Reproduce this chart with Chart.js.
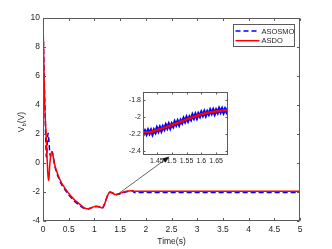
<!DOCTYPE html>
<html><head><meta charset="utf-8">
<script src="https://cdn.jsdelivr.net/npm/chart.js@4/dist/chart.umd.min.js"></script>
<style>
html,body{margin:0;padding:0;background:#fff;overflow:hidden}
#wrap{position:relative;width:332px;height:249px}
#main{position:absolute;left:0;top:0;width:332px;height:249px}
#inset{position:absolute;left:110px;top:86px;width:122px;height:84px}
</style></head><body>
<div id="wrap"><canvas id="main" width="332" height="249"></canvas><canvas id="inset" width="122" height="84"></canvas></div>
<script>
// ---------- data ----------
const seriesNames = ['ASOSMO', 'ASDO'];
const xTitle = 'Time(s)';
const yTitleMain = 'V', yTitleSub = 'b', yTitleUnit = '(V)';

const timeASDO = [0,0.01,0.02,0.03,0.045,0.06,0.075,0.09,0.105,0.115,0.13,0.15,0.17,0.19,0.22,0.26,0.3,0.35,0.4,0.45,0.5,0.55,0.6,0.65,0.7,0.75,0.8,0.85,0.9,0.95,1.0,1.05,1.1,1.15,1.2,1.25,1.3,1.35,1.4,1.45,1.5,1.55,1.6,1.65,1.7,1.75,1.77,2.0,5.0];
const valASDO  = [9.5,8.0,6.2,4.5,3.0,2.0,0.8,-0.5,-1.2,-1.1,-0.2,0.5,0.75,0.6,0.0,-0.5,-0.9,-1.3,-1.6,-1.85,-2.1,-2.3,-2.5,-2.65,-2.8,-2.95,-3.08,-3.15,-3.13,-3.07,-3.0,-2.98,-3.02,-3.1,-2.8,-2.3,-2.0,-2.05,-2.18,-2.157,-2.097,-2.03,-1.97,-1.935,-1.92,-1.91,-1.95,-1.95,-1.95];

const timeASOSMO = [0,0.01,0.02,0.03,0.045,0.055,0.065,0.075,0.09,0.1,0.115,0.13,0.145,0.16,0.175,0.19,0.22,0.26,0.3,0.35,0.4,0.45,0.5,0.55,0.6,0.65,0.7,0.75,0.8,0.85,0.9,0.95,1.0,1.05,1.1,1.15,1.2,1.25,1.3,1.35,1.4,1.45,1.5,1.55,1.6,1.65,1.7,1.75,1.77,5.0];
const valASOSMO  = [9.5,8.2,6.5,4.8,3.0,1.5,0.4,0.8,1.8,2.05,1.5,0.8,0.45,0.6,0.8,0.65,-0.05,-0.6,-1.0,-1.4,-1.7,-1.95,-2.2,-2.4,-2.6,-2.75,-2.9,-3.03,-3.13,-3.18,-3.15,-3.08,-3.02,-3.0,-3.04,-3.12,-2.82,-2.32,-2.02,-2.07,-2.19,-2.16,-2.12,-2.06,-2.0,-1.96,-1.94,-1.93,-2.03,-2.03];

const xTicks = [0,0.5,1,1.5,2,2.5,3,3.5,4,4.5,5];
const yTicks = [-4,-2,0,2,4,6,8,10];

// zoomed inset (1.40 s .. 1.69 s)
const insetTimeASDO = [1.40,1.41,1.42,1.43,1.44,1.45,1.46,1.47,1.48,1.49,1.50,1.51,1.52,1.53,1.54,1.55,1.56,1.57,1.58,1.59,1.60,1.61,1.62,1.63,1.64,1.65,1.66,1.67,1.68,1.69];
const insetValASDO  = [-2.180,-2.182,-2.183,-2.178,-2.168,-2.157,-2.145,-2.133,-2.121,-2.109,-2.097,-2.085,-2.072,-2.058,-2.044,-2.030,-2.017,-2.004,-1.992,-1.981,-1.970,-1.961,-1.953,-1.946,-1.940,-1.935,-1.930,-1.926,-1.922,-1.919];
const insetTimeASOSMO = [1.400,1.405,1.410,1.415,1.420,1.425,1.430,1.435,1.440,1.445,1.450,1.455,1.460,1.465,1.470,1.475,1.480,1.485,1.490,1.495,1.500,1.505,1.510,1.515,1.520,1.525,1.530,1.535,1.540,1.545,1.550,1.555,1.560,1.565,1.570,1.575,1.580,1.585,1.590,1.595,1.600,1.605,1.610,1.615,1.620,1.625,1.630,1.635,1.640,1.645,1.650,1.655,1.660,1.665,1.670,1.675,1.680,1.685,1.690];
const insetValASOSMO  = [-2.160,-2.206,-2.167,-2.203,-2.158,-2.196,-2.158,-2.203,-2.156,-2.185,-2.132,-2.169,-2.125,-2.165,-2.117,-2.147,-2.097,-2.132,-2.088,-2.130,-2.084,-2.113,-2.060,-2.095,-2.052,-2.093,-2.043,-2.071,-2.020,-2.055,-2.008,-2.048,-2.003,-2.031,-1.979,-2.015,-1.972,-2.013,-1.965,-1.995,-1.947,-1.983,-1.940,-1.983,-1.939,-1.970,-1.922,-1.960,-1.920,-1.965,-1.920,-1.952,-1.905,-1.944,-1.905,-1.949,-1.909,-1.942,-1.895];
const insetXTicks = [1.45,1.5,1.55,1.6,1.65];
const insetYTicks = [-2.4,-2.2,-2,-1.8];

// arrow from the curve (data coords) to the inset (main-axis data coords)
const arrowFrom = [1.455, -2.15];
const arrowTo = [2.46, 0.45];

// ---------- style ----------
const FONT = "'Liberation Sans', Arial, Helvetica, sans-serif";
const TXT = '#262626';
const BLUE = '#0000ff', RED = '#ff0000';

const pts = (xs, ys) => xs.map((x, i) => ({x, y: ys[i]}));
const fmt = v => String(+(+v).toFixed(3));

function framePlugin(len) {
  return {
    id: 'frame',
    beforeDraw(chart) {
      const {ctx, chartArea: a} = chart;
      ctx.save(); ctx.fillStyle = '#fff';
      ctx.fillRect(a.left, a.top, a.right - a.left, a.bottom - a.top);
      ctx.restore();
    },
    afterDraw(chart) {
      const {ctx, chartArea: a, scales: {x, y}} = chart;
      ctx.save();
      ctx.strokeStyle = '#5a5a5a'; ctx.lineWidth = 1;
      const L = Math.round(a.left) + 0.5, R = Math.round(a.right) - 0.5;
      const T = Math.round(a.top) + 0.5, B = Math.round(a.bottom) - 0.5;
      ctx.strokeRect(L, T, R - L, B - T);
      ctx.beginPath();
      x.ticks.forEach(t => {
        const px = Math.round(x.getPixelForValue(t.value)) + 0.5;
        ctx.moveTo(px, B); ctx.lineTo(px, B - len);
        ctx.moveTo(px, T); ctx.lineTo(px, T + len);
      });
      y.ticks.forEach(t => {
        const py = Math.round(y.getPixelForValue(t.value)) + 0.5;
        ctx.moveTo(L, py); ctx.lineTo(L + len, py);
        ctx.moveTo(R, py); ctx.lineTo(R - len, py);
      });
      ctx.stroke();
      ctx.restore();
    }
  };
}

const mainExtras = {
  id: 'mainExtras',
  afterDraw(chart) {
    const {ctx, chartArea: a, scales: {x, y}} = chart;
    ctx.save();
    // arrow
    const x0 = x.getPixelForValue(arrowFrom[0]), y0 = y.getPixelForValue(arrowFrom[1]);
    const x1 = x.getPixelForValue(arrowTo[0]), y1 = y.getPixelForValue(arrowTo[1]);
    const ang = Math.atan2(y1 - y0, x1 - x0);
    ctx.strokeStyle = '#222'; ctx.fillStyle = '#111'; ctx.lineWidth = 0.7;
    ctx.beginPath(); ctx.moveTo(x0, y0); ctx.lineTo(x1 - 5 * Math.cos(ang), y1 - 5 * Math.sin(ang)); ctx.stroke();
    ctx.beginPath();
    ctx.moveTo(x1, y1);
    ctx.lineTo(x1 - 7 * Math.cos(ang) + 2.6 * Math.sin(ang), y1 - 7 * Math.sin(ang) - 2.6 * Math.cos(ang));
    ctx.lineTo(x1 - 7 * Math.cos(ang) - 2.6 * Math.sin(ang), y1 - 7 * Math.sin(ang) + 2.6 * Math.cos(ang));
    ctx.closePath(); ctx.fill();

    // legend
    const lx = 233.5, ly = 24.5, lw = 61, lh = 22;
    ctx.fillStyle = '#fff'; ctx.fillRect(lx, ly, lw, lh);
    ctx.strokeStyle = '#5a5a5a'; ctx.lineWidth = 1; ctx.strokeRect(lx, ly, lw, lh);
    ctx.font = '7.5px ' + FONT; ctx.textBaseline = 'middle'; ctx.textAlign = 'left';
    const order = [0, 1];
    order.forEach((di, i) => {
      const ds = chart.data.datasets[di];
      const yy = 31 + i * 9.7;
      ctx.strokeStyle = ds.borderColor; ctx.lineWidth = 1.5;
      ctx.setLineDash(ds.borderDash || []);
      ctx.beginPath(); ctx.moveTo(235.5, yy); ctx.lineTo(259.5, yy); ctx.stroke();
      ctx.setLineDash([]);
      ctx.fillStyle = TXT; ctx.fillText(ds.label, 261.5, yy + 0.5);
    });

    // x title
    ctx.font = '8.5px ' + FONT; ctx.fillStyle = TXT;
    ctx.textAlign = 'center'; ctx.textBaseline = 'middle';
    ctx.fillText(xTitle, (a.left + a.right) / 2, 241.5);

    // y title (V_b(V)) rotated
    ctx.translate(23.5, (a.top + a.bottom) / 2 + 2.5);
    ctx.rotate(-Math.PI / 2);
    ctx.textBaseline = 'alphabetic'; ctx.textAlign = 'left';
    const fMain = '8.5px ' + FONT, fSub = '6px ' + FONT;
    ctx.font = fMain; const w1 = ctx.measureText(yTitleMain).width, w3 = ctx.measureText(yTitleUnit).width;
    ctx.font = fSub; const w2 = ctx.measureText(yTitleSub).width;
    let sx = -(w1 + w2 + w3) / 2;
    ctx.font = fMain; ctx.fillText(yTitleMain, sx, 0); sx += w1;
    ctx.font = fSub; ctx.fillText(yTitleSub, sx, 2); sx += w2;
    ctx.font = fMain; ctx.fillText(yTitleUnit, sx, 0);
    ctx.restore();
  }
};

new Chart(document.getElementById('main'), {
  type: 'line',
  data: {
    datasets: [
      {label: seriesNames[0], data: pts(timeASOSMO, valASOSMO), borderColor: BLUE, borderWidth: 1.5, borderDash: [5, 3], pointRadius: 0, cubicInterpolationMode: 'monotone', order: 1},
      {label: seriesNames[1], data: pts(timeASDO, valASDO), borderColor: RED, borderWidth: 1.5, pointRadius: 0, cubicInterpolationMode: 'monotone', order: 0}
    ]
  },
  options: {
    responsive: false, animation: false, devicePixelRatio: 1,
    layout: {padding: {left: 0, right: 32, top: 18, bottom: 0}},
    plugins: {legend: {display: false}, tooltip: {enabled: false}},
    scales: {
      x: {type: 'linear', min: 0, max: 5,
        afterBuildTicks: s => { s.ticks = xTicks.map(v => ({value: v})); },
        afterFit: s => { s.height = 28; },
        grid: {display: false, drawTicks: false}, border: {display: false},
        ticks: {font: {family: FONT, size: 8.5}, color: TXT, padding: 4, maxRotation: 0, autoSkip: false, callback: fmt}},
      y: {type: 'linear', min: -4, max: 10,
        afterBuildTicks: s => { s.ticks = yTicks.map(v => ({value: v})); },
        afterFit: s => { s.width = 43; },
        grid: {display: false, drawTicks: false}, border: {display: false},
        ticks: {font: {family: FONT, size: 8.5}, color: TXT, padding: 3, autoSkip: false, callback: fmt}}
    }
  },
  plugins: [framePlugin(2.5), mainExtras]
});

new Chart(document.getElementById('inset'), {
  type: 'line',
  data: {
    datasets: [
      {label: seriesNames[0], data: pts(insetTimeASOSMO, insetValASOSMO), borderColor: BLUE, borderWidth: 2.8, pointRadius: 0, tension: 0, order: 1},
      {label: seriesNames[1], data: pts(insetTimeASDO, insetValASDO), borderColor: RED, borderWidth: 2.5, pointRadius: 0, cubicInterpolationMode: 'monotone', order: 0}
    ]
  },
  options: {
    responsive: false, animation: false, devicePixelRatio: 1,
    layout: {padding: {left: 0, right: 4, top: 5, bottom: 0}},
    plugins: {legend: {display: false}, tooltip: {enabled: false}},
    scales: {
      x: {type: 'linear', min: 1.403, max: 1.69,
        afterBuildTicks: s => { s.ticks = insetXTicks.map(v => ({value: v})); },
        afterFit: s => { s.height = 15; },
        grid: {display: false, drawTicks: false}, border: {display: false},
        ticks: {font: {family: FONT, size: 7}, color: TXT, padding: 2, maxRotation: 0, autoSkip: false, callback: fmt}},
      y: {type: 'linear', min: -2.45, max: -1.71,
        afterBuildTicks: s => { s.ticks = insetYTicks.map(v => ({value: v})); },
        afterFit: s => { s.width = 33; },
        grid: {display: false, drawTicks: false}, border: {display: false},
        ticks: {font: {family: FONT, size: 7}, color: TXT, padding: 2, autoSkip: false, callback: fmt}}
    }
  },
  plugins: [framePlugin(2)]
});
</script>
</body></html>
